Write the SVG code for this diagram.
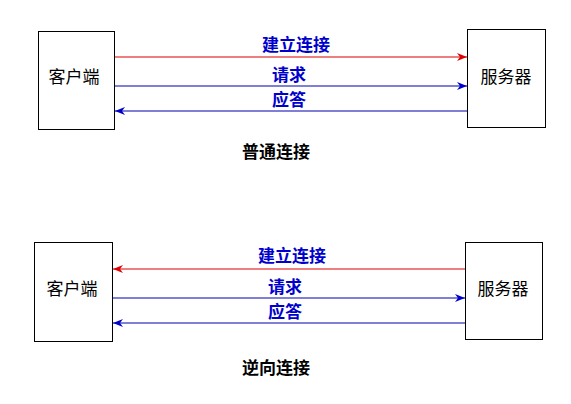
<svg xmlns="http://www.w3.org/2000/svg" width="571" height="404" viewBox="0 0 571 404">
<style>
.box{fill:#fff;stroke:#000;stroke-width:1}
.nt{font-family:"Noto Sans CJK SC",sans-serif;font-size:17px;fill:#000;text-anchor:middle;dominant-baseline:central}
.lb{font-family:"Noto Sans CJK SC",sans-serif;font-size:17px;font-weight:bold;fill:#0000cc;text-anchor:middle}
.cap{font-family:"Noto Sans CJK SC",sans-serif;font-size:17px;font-weight:bold;fill:#000;text-anchor:middle}
.r{stroke:#e00000;stroke-width:1.2;fill:none}
.b{stroke:#0000b0;stroke-width:1.2;fill:none}
</style>
<defs>
<marker id="ar" viewBox="0 0 10 8" refX="10" refY="4" markerWidth="10" markerHeight="8" markerUnits="userSpaceOnUse" orient="auto"><path d="M0,0 L10,4 L0,8 L3,4 Z" fill="#e00000"/></marker>
<marker id="ab" viewBox="0 0 10 8" refX="10" refY="4" markerWidth="10" markerHeight="8" markerUnits="userSpaceOnUse" orient="auto"><path d="M0,0 L10,4 L0,8 L3,4 Z" fill="#0000cc"/></marker>
</defs>
<rect width="571" height="404" fill="#fff"/>
<g id="client1"><rect class="box" x="38.5" y="31.5" width="76" height="98"/><text class="nt" x="74" y="75">客户端</text></g>
<g id="server1"><rect class="box" x="467.5" y="29.5" width="78" height="98"/><text class="nt" x="506" y="75">服务器</text></g>
<g id="client2"><rect class="box" x="34.5" y="242.5" width="78" height="99"/><text class="nt" x="72" y="287">客户端</text></g>
<g id="server2"><rect class="box" x="465.5" y="242.5" width="77" height="97"/><text class="nt" x="503" y="287">服务器</text></g>
<g id="connectors">
<line class="r" x1="115" y1="57" x2="467" y2="57" marker-end="url(#ar)"/>
<line class="b" x1="115" y1="86" x2="467" y2="86" marker-end="url(#ab)"/>
<line class="b" x1="467" y1="111" x2="115" y2="111" marker-end="url(#ab)"/>
<line class="r" x1="465" y1="269" x2="113" y2="269" marker-end="url(#ar)"/>
<line class="b" x1="113" y1="298" x2="465" y2="298" marker-end="url(#ab)"/>
<line class="b" x1="465" y1="323" x2="113" y2="323" marker-end="url(#ab)"/>
</g>
<g id="labels">
<text class="lb" x="296" y="51">建立连接</text>
<text class="lb" x="289" y="81">请求</text>
<text class="lb" x="289" y="106">应答</text>
<text class="lb" x="292" y="262">建立连接</text>
<text class="lb" x="285" y="293">请求</text>
<text class="lb" x="285" y="318">应答</text>
<text class="cap" x="276" y="158">普通连接</text>
<text class="cap" x="276" y="374">逆向连接</text>
</g>
</svg>
